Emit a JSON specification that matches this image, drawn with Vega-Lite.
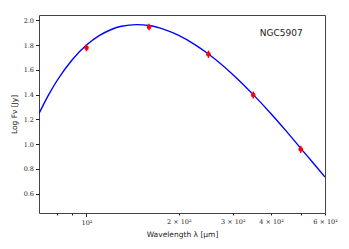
{
  "$schema": "https://vega.github.io/schema/vega-lite/v6.json",
  "width": 286,
  "height": 198,
  "autosize": "none",
  "padding": {"left": 39, "top": 15, "right": 24, "bottom": 36},
  "background": "white",
  "config": {
    "view": {"stroke": "#444", "strokeWidth": 1},
    "axis": {"domain": false, "grid": false, "tickColor": "#222", "labelFont": "DejaVu Serif", "labelFontSize": 6.5, "labelColor": "#222", "labelOverlap": false, "titleFont": "DejaVu Sans", "titleFontSize": 7.5, "titleFontWeight": "normal", "titleColor": "#222"}
  },
  "resolve": {"axis": {"x": "independent", "y": "independent"}},
  "layer": [
    {
      "data": {"values": [
        {"lambda": 70, "logF": 1.248},
        {"lambda": 75, "logF": 1.392},
        {"lambda": 80, "logF": 1.510},
        {"lambda": 90, "logF": 1.684},
        {"lambda": 100, "logF": 1.800},
        {"lambda": 110, "logF": 1.876},
        {"lambda": 120, "logF": 1.924},
        {"lambda": 130, "logF": 1.952},
        {"lambda": 146, "logF": 1.965},
        {"lambda": 160, "logF": 1.958},
        {"lambda": 180, "logF": 1.925},
        {"lambda": 200, "logF": 1.878},
        {"lambda": 225, "logF": 1.806},
        {"lambda": 250, "logF": 1.728},
        {"lambda": 300, "logF": 1.563},
        {"lambda": 350, "logF": 1.400},
        {"lambda": 400, "logF": 1.246},
        {"lambda": 450, "logF": 1.101},
        {"lambda": 500, "logF": 0.966},
        {"lambda": 550, "logF": 0.846},
        {"lambda": 600, "logF": 0.734}
      ]},
      "mark": {"type": "line", "color": "#0000ff", "strokeWidth": 1.4, "clip": true, "interpolate": "monotone"},
      "encoding": {
        "x": {"field": "lambda", "type": "quantitative",
          "scale": {"type": "log", "domain": [70, 600], "nice": false},
          "axis": {"title": "Wavelength λ [μm]", "values": [80, 90, 100, 200, 300, 400, 500, 600],
            "labelExpr": "datum.value == 100 ? '10²' : (datum.value == 200 ? '2 × 10²' : (datum.value == 300 ? '3 × 10²' : (datum.value == 400 ? '4 × 10²' : (datum.value == 600 ? '6 × 10²' : ''))))",
            "tickSize": {"condition": {"test": "datum.value == 100", "value": 3.5}, "value": 2},
            "labelOverlap": false, "labelPadding": 3, "titlePadding": 4, "labelFlush": false}},
        "y": {"field": "logF", "type": "quantitative",
          "scale": {"domain": [0.444, 2.043], "nice": false, "zero": false},
          "axis": {"title": "Log Fν [Jy]", "values": [0.6, 0.8, 1, 1.2, 1.4, 1.6, 1.8, 2], "labelExpr": "format(datum.value, '.1f')", "tickSize": 3.5, "labelOverlap": false, "labelFlush": false, "labelPadding": 2, "titlePadding": 5}}
      }
    },
    {
      "data": {"values": [
        {"lambda": 100, "logF": 1.778, "lo": 1.750, "hi": 1.806},
        {"lambda": 160, "logF": 1.946, "lo": 1.920, "hi": 1.972},
        {"lambda": 250, "logF": 1.726, "lo": 1.697, "hi": 1.755},
        {"lambda": 350, "logF": 1.397, "lo": 1.368, "hi": 1.426},
        {"lambda": 500, "logF": 0.958, "lo": 0.929, "hi": 0.987}
      ]},
      "layer": [
        {
          "mark": {"type": "rule", "color": "#ff0000", "strokeWidth": 1.5},
          "encoding": {
            "x": {"field": "lambda", "type": "quantitative", "axis": null},
            "y": {"field": "lo", "type": "quantitative", "axis": null},
            "y2": {"field": "hi"}
          }
        },
        {
          "mark": {"type": "point", "filled": true, "color": "#ff0000", "size": 22, "opacity": 1},
          "encoding": {
            "x": {"field": "lambda", "type": "quantitative", "axis": null},
            "y": {"field": "logF", "type": "quantitative", "axis": null}
          }
        }
      ]
    },
    {
      "data": {"values": [{"label": "NGC5907", "lambda": 432, "logF": 1.895}]},
      "mark": {"type": "text", "font": "DejaVu Sans", "fontSize": 9, "color": "#222", "align": "center", "baseline": "middle"},
      "encoding": {
        "x": {"field": "lambda", "type": "quantitative", "axis": null},
        "y": {"field": "logF", "type": "quantitative", "axis": null},
        "text": {"field": "label"}
      }
    }
  ]
}
